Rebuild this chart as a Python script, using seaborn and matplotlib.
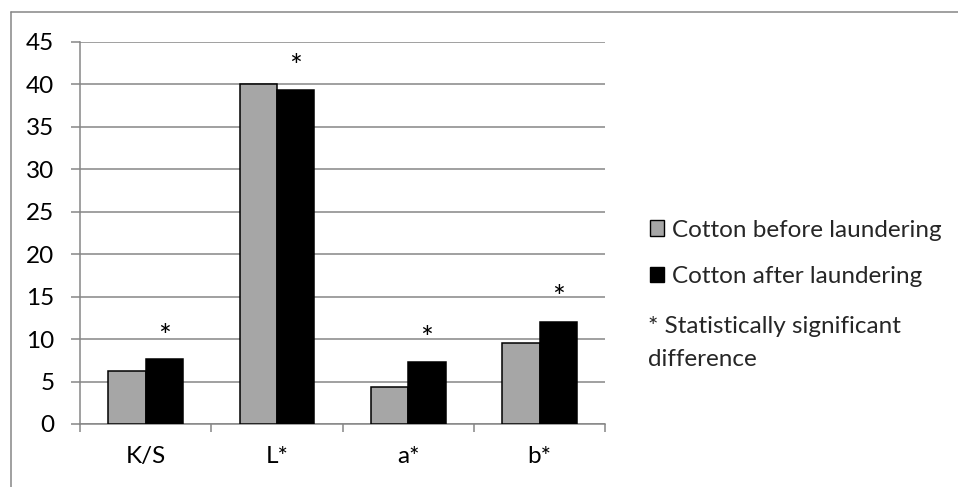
import pandas as pd
import seaborn as sns
import matplotlib.pyplot as plt
from matplotlib.patches import Patch
from matplotlib.lines import Line2D

# data
categories = ['K/S', 'L*', 'a*', 'b*']
before = [6.2, 40.0, 4.3, 9.5]
after = [7.65, 39.35, 7.3, 12.05]
series = ['Cotton before laundering', 'Cotton after laundering']
star_y = [11.4, 43.2, 11.1, 16.0]
yticks = [0, 5, 10, 15, 20, 25, 30, 35, 40, 45]

GREY = '#A6A6A6'
GRID = '#868686'
FS = 17.5

sns.set_style('white')
plt.rcParams['font.family'] = ['Lato', 'DejaVu Sans']

df = pd.DataFrame({
    'category': categories * 2,
    'value': before + after,
    'series': [series[0]] * len(categories) + [series[1]] * len(categories),
})

fig = plt.figure(figsize=(9.58, 4.87), dpi=100)
ax = fig.add_axes([80 / 958, 1 - 424 / 487, (605.3 - 80) / 958, (424 - 41.7) / 487])

sns.barplot(data=df, x='category', y='value', hue='series', order=categories,
            hue_order=series, palette=[GREY, 'black'], width=0.57, gap=0,
            edgecolor='black', linewidth=1.1, legend=False, ax=ax, zorder=3)

ax.set_xlim(-0.5, len(categories) - 0.5)
ax.set_ylim(0, 45)
ax.set_yticks(yticks)
ax.set_xlabel('')
ax.set_ylabel('')

# Excel-like grid and axes
ax.grid(axis='y', color=GRID, linewidth=1.1, zorder=0)
ax.set_axisbelow(True)
for side in ['top', 'right']:
    ax.spines[side].set_visible(False)
for side in ['left', 'bottom']:
    ax.spines[side].set_color(GRID)
    ax.spines[side].set_linewidth(1.1)
ax.tick_params(axis='y', direction='out', length=6.5, width=1.1, color=GRID,
               labelsize=FS, labelcolor='black', pad=12, left=True)
ax.set_xticks([i - 0.5 for i in range(len(categories) + 1)], minor=True)
ax.tick_params(axis='x', which='minor', direction='out', length=5.5, width=1.1, color=GRID, bottom=True)
ax.tick_params(axis='x', which='major', length=0, labelsize=FS, labelcolor='black', pad=16)

# significance asterisks above the "after" bars (Lato's asterisk sits high, hence the shift)
for bar, y in zip(ax.containers[1], star_y):
    ax.annotate('*', (bar.get_x() + bar.get_width() / 2, y), xytext=(0, -7),
                textcoords='offset points', ha='center', va='center',
                fontsize=FS + 4, color='black')

# legend on the right
handles = [Patch(facecolor=GREY, edgecolor='black', linewidth=1.0),
           Patch(facecolor='black', edgecolor='black', linewidth=1.0)]
fig.legend(handles, series, loc='upper left', bbox_to_anchor=(640 / 958, 1 - 210 / 487),
           frameon=False, fontsize=FS, handlelength=0.6, handleheight=0.6,
           handletextpad=0.3, labelspacing=1.05, borderaxespad=0)
fig.text(648 / 958, 1 - 326.7 / 487, '* Statistically significant',
         fontsize=FS, va='center', ha='left')
fig.text(648 / 958, 1 - 360 / 487, 'difference',
         fontsize=FS, va='center', ha='left')

# outer chart-area border (top and left edges visible)
fig.add_artist(Line2D([11 / 958, 1], [1 - 11.7 / 487] * 2, color=GRID, linewidth=1.1))
fig.add_artist(Line2D([11 / 958] * 2, [0, 1 - 11.7 / 487], color=GRID, linewidth=1.1))

fig.savefig('out.png', dpi=100, facecolor='white')
